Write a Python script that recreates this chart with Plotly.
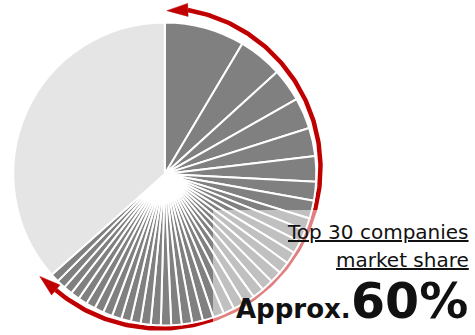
import numpy as np
import plotly.graph_objects as go

W, H = 475, 335

# Market share (%) of the ranked companies (largest first), drawn in dark grey
top_shares = [8.5, 4.7, 3.5, 3.3, 3.0, 2.7, 2.0, 1.9,
              1.33, 1.32, 1.30, 1.29, 1.27, 1.26, 1.24, 1.23, 1.21, 1.19,
              1.18, 1.16, 1.15, 1.13, 1.12, 1.10, 1.09, 1.07, 1.06, 1.04,
              1.03, 1.01, 1.00, 0.99, 0.98, 0.97, 0.96, 0.95, 0.94, 0.93]
# Everyone else, drawn in light grey
others_share = 36.4

top_labels = [f"Rank {i + 1}" for i in range(len(top_shares))]
headline_lines = ["Top 30 companies", "market share"]
headline_prefix = "Approx."
headline_value = "60%"

DARK = "#808080"
LIGHT = "#e5e5e5"
RED = "#c00000"
TEXT = "#111111"
FONT = "DejaVu Sans"

# pie placement in pixels
PIE_CX, PIE_CY, PIE_R = 164.8, 173.9, 151.5

fig = go.Figure()

fig.add_trace(go.Pie(
    values=top_shares + [others_share],
    labels=top_labels + ["Others"],
    sort=False,
    direction="clockwise",
    rotation=0,
    marker=dict(colors=[DARK] * len(top_shares) + [LIGHT],
                line=dict(color="white", width=2)),
    textinfo="none",
    hoverinfo="label+value",
    showlegend=False,
    domain=dict(x=[(PIE_CX - PIE_R) / W, (PIE_CX + PIE_R) / W],
                y=[(H - PIE_CY - PIE_R) / H, (H - PIE_CY + PIE_R) / H]),
))

# double-headed red arc running around the top-company slices
ARC_CX, ARC_CY, ARC_R = 160.0, 168.0, 160.5
ARC_START, ARC_END = 10.0, 220.5   # degrees, clockwise from 12 o'clock
HEAD_LEN, HEAD_W = 21.0, 13.0


def arc_point(deg):
    t = np.radians(deg)
    return np.array([ARC_CX + ARC_R * np.sin(t), ARC_CY - ARC_R * np.cos(t)])


th = np.linspace(ARC_START, ARC_END, 240)
fig.add_trace(go.Scatter(
    x=ARC_CX + ARC_R * np.sin(np.radians(th)),
    y=ARC_CY - ARC_R * np.cos(np.radians(th)),
    mode="lines", line=dict(color=RED, width=4.5),
    hoverinfo="skip", showlegend=False,
))


def head(deg, sign, tilt):
    """Triangle arrowhead whose base sits on the arc at `deg`."""
    t = np.radians(deg)
    base = arc_point(deg)
    tang = sign * np.array([np.cos(t), np.sin(t)])
    a = np.radians(tilt)
    rot = np.array([[np.cos(a), -np.sin(a)], [np.sin(a), np.cos(a)]])
    tang = rot @ tang
    norm = np.array([-tang[1], tang[0]])
    tip = base + HEAD_LEN * tang
    c1 = base + HEAD_W / 2 * norm
    c2 = base - HEAD_W / 2 * norm
    pts = np.array([tip, c1, c2, tip])
    return pts[:, 0], pts[:, 1]


for deg, sign, tilt in [(ARC_START, -1, -12), (ARC_END, 1, 0)]:
    hx, hy = head(deg, sign, tilt)
    fig.add_trace(go.Scatter(
        x=hx, y=hy, mode="lines", fill="toself", fillcolor=RED,
        line=dict(color=RED, width=0.5), hoverinfo="skip", showlegend=False,
    ))

# translucent white panel behind the headline
fig.add_shape(type="rect", xref="x", yref="y", x0=213, x1=W, y0=210, y1=H,
              fillcolor="rgba(255,255,255,0.5)", line=dict(width=0),
              layer="above")

ann_font = dict(family=FONT, color=TEXT, size=20, lineposition="under")
fig.add_annotation(x=471, y=232, xref="x", yref="y", text=headline_lines[0],
                   showarrow=False, xanchor="right", yanchor="middle",
                   font=ann_font)
fig.add_annotation(x=471, y=259.5, xref="x", yref="y", text=headline_lines[1],
                   showarrow=False, xanchor="right", yanchor="middle",
                   font=ann_font)
fig.add_annotation(x=470, y=301, xref="x", yref="y",
                   text=f"<b>{headline_value}</b>",
                   showarrow=False, xanchor="right", yanchor="middle",
                   font=dict(family=FONT, color=TEXT, size=49))
fig.add_annotation(x=353, y=309, xref="x", yref="y",
                   text=f"<b>{headline_prefix}</b>",
                   showarrow=False, xanchor="right", yanchor="middle",
                   font=dict(family=FONT, color=TEXT, size=26))

fig.update_layout(
    width=W, height=H,
    margin=dict(l=0, r=0, t=0, b=0),
    paper_bgcolor="white", plot_bgcolor="rgba(0,0,0,0)",
    xaxis=dict(range=[0, W], visible=False, fixedrange=True),
    yaxis=dict(range=[H, 0], visible=False, fixedrange=True),
    showlegend=False,
)

fig.write_html("out.html")
